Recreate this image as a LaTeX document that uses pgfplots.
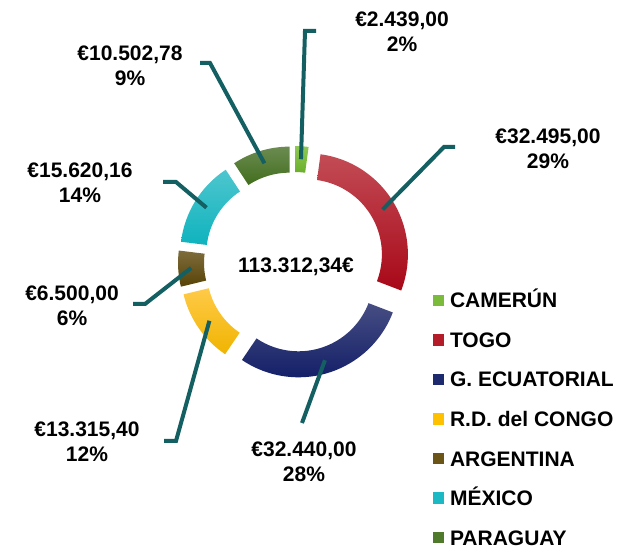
\documentclass[border=0pt]{standalone}
\usepackage{fontspec}
\setmainfont{Liberation Sans}
\usepackage{pgfplots}
\usepackage{pgfplotstable}
\pgfplotsset{compat=1.18}

\definecolor{c0t}{HTML}{8FC955}\definecolor{c0b}{HTML}{6AAE2A}\definecolor{c0}{HTML}{7BBB3C}
\definecolor{c1t}{HTML}{C24C55}\definecolor{c1b}{HTML}{A80818}\definecolor{c1}{HTML}{B51C2A}
\definecolor{c2t}{HTML}{464E82}\definecolor{c2b}{HTML}{121E68}\definecolor{c2}{HTML}{1E2A6E}
\definecolor{c3t}{HTML}{FFCA48}\definecolor{c3b}{HTML}{F0B400}\definecolor{c3}{HTML}{FFC000}
\definecolor{c4t}{HTML}{7E6C3C}\definecolor{c4b}{HTML}{574306}\definecolor{c4}{HTML}{6A5416}
\definecolor{c5t}{HTML}{4EC6CE}\definecolor{c5b}{HTML}{0EB3BE}\definecolor{c5}{HTML}{1BB9C4}
\definecolor{c6t}{HTML}{6B8B52}\definecolor{c6b}{HTML}{426E1C}\definecolor{c6}{HTML}{4F7A2C}
\definecolor{leader}{HTML}{135F61}

\pgfplotstableread{
value
2439.00
32495.00
32440.00
13315.40
6500.00
15620.16
10502.78
}\shares

\pgfplotsset{legend image code/.code={\fill[#1] (0bp,-5.75bp) rectangle (11bp,5.75bp);}}

\newcommand\bigfont{\fontsize{21bp}{25bp}\selectfont\bfseries}

\begin{document}
\begin{tikzpicture}
% total and angles from the data
\xdef\tot{0}
\pgfplotsforeachungrouped \i in {0,...,6}{%
  \pgfplotstablegetelem{\i}{value}\of\shares
  \xdef\tot{\fpeval{\tot+\pgfplotsretval}}%
}
\xdef\cur{90}
\pgfplotsforeachungrouped \i in {0,...,6}{%
  \pgfplotstablegetelem{\i}{value}\of\shares
  \xdef\sw{\fpeval{\pgfplotsretval/\tot*360}}%
  \expandafter\xdef\csname sa\i\endcsname{\cur}%
  \expandafter\xdef\csname ea\i\endcsname{\fpeval{\cur-\sw}}%
  \expandafter\xdef\csname ma\i\endcsname{\fpeval{\cur-\sw/2}}%
  \xdef\cur{\fpeval{\cur-\sw}}%
}
\def\cx{294}\def\cy{286}\def\ro{101}\def\ri{75}\def\ex{15}
\begin{axis}[x=1bp, y=1bp, xmin=0, xmax=632, ymin=0, ymax=548,
  hide axis, clip=false,
  legend style={at={(axis cs:433,255)}, anchor=north west, draw=none, fill=none,
    inner sep=0pt, outer sep=0pt, row sep=24.5bp, font=\bigfont,
    nodes={inner sep=0pt, text height=15bp, text depth=0bp},
    /tikz/every odd column/.append style={column sep=6bp}},
  legend cell align=left]
\coordinate (bl) at (axis cs:0,0);
\coordinate (tr) at (axis cs:632,548);
\pgfplotsinvokeforeach{0,...,6}{
  \path[top color=c#1t, bottom color=c#1b]
    (axis cs:{\cx+\ex*cos(\csname ma#1\endcsname)+\ro*cos(\csname sa#1\endcsname)},
             {\cy+\ex*sin(\csname ma#1\endcsname)+\ro*sin(\csname sa#1\endcsname)})
    arc[start angle=\csname sa#1\endcsname, end angle=\csname ea#1\endcsname, radius=\ro bp]
    -- (axis cs:{\cx+\ex*cos(\csname ma#1\endcsname)+\ri*cos(\csname ea#1\endcsname)},
                {\cy+\ex*sin(\csname ma#1\endcsname)+\ri*sin(\csname ea#1\endcsname)})
    arc[start angle=\csname ea#1\endcsname, end angle=\csname sa#1\endcsname, radius=\ri bp]
    -- cycle;
}
\addlegendimage{fill=c0, draw=none}
\addlegendimage{fill=c1, draw=none}
\addlegendimage{fill=c2, draw=none}
\addlegendimage{fill=c3, draw=none}
\addlegendimage{fill=c4, draw=none}
\addlegendimage{fill=c5, draw=none}
\addlegendimage{fill=c6, draw=none}
\legend{CAMERÚN, TOGO, G. ECUATORIAL, R.D. del CONGO, ARGENTINA, MÉXICO, PARAGUAY}

% leader lines
\def\lp#1{(axis cs:{\cx+(\ex+88)*cos(\csname ma#1\endcsname)},{\cy+(\ex+88)*sin(\csname ma#1\endcsname)})}
\tikzset{ld/.style={leader, line width=4bp}}
\draw[ld] \lp{0} -- (axis cs:305,517) -- (axis cs:316,517);
\draw[ld] \lp{1} -- (axis cs:444,401) -- (axis cs:455,401);
\draw[ld] \lp{2} -- (axis cs:302,125);
\draw[ld] \lp{3} -- (axis cs:176,107) -- (axis cs:164,107);
\draw[ld] \lp{4} -- (axis cs:145,244) -- (axis cs:133,244);
\draw[ld] \lp{5} -- (axis cs:176,366) -- (axis cs:163,366);
\draw[ld] \lp{6} -- (axis cs:210,485) -- (axis cs:200,485);

% labels
\node[font=\bigfont, align=center] at (axis cs:402,516) {€2.439,00\\2\%};
\node[font=\bigfont, align=center] at (axis cs:548,399) {€32.495,00\\29\%};
\node[font=\bigfont, align=center] at (axis cs:304,86) {€32.440,00\\28\%};
\node[font=\bigfont, align=center] at (axis cs:87,106.5) {€13.315,40\\12\%};
\node[font=\bigfont, align=center] at (axis cs:72,242.5) {€6.500,00\\6\%};
\node[font=\bigfont, align=center] at (axis cs:80,365.5) {€15.620,16\\14\%};
\node[font=\bigfont, align=center] at (axis cs:130,482) {€10.502,78\\9\%};
\node[font=\bigfont] at (axis cs:296,281) {113.312,34€};
\end{axis}
\pgfresetboundingbox
\path (bl) rectangle (tr);
\end{tikzpicture}
\end{document}
